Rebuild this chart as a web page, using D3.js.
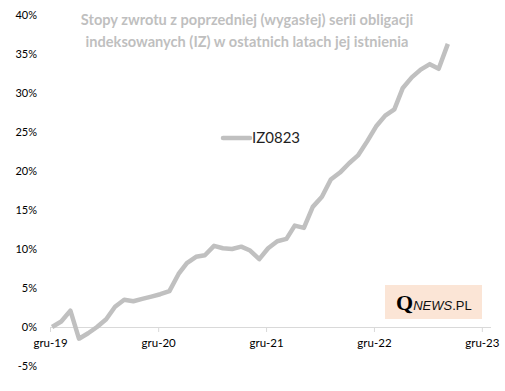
<!DOCTYPE html>
<html>
<head>
<meta charset="utf-8">
<script src="https://cdn.jsdelivr.net/npm/d3@7"></script>
<style>
  body { margin: 0; background: #fff; }
  svg { display: block; font-family: Lato, "Open Sans", sans-serif; }
</style>
</head>
<body>
<div id="chart"></div>
<script>
// monthly returns of IZ0823, from Dec 2019 to Aug 2023 (in %)
var startMonth = new Date(2019, 11, 8);
var returns = [0.0, 0.7, 2.1, -1.5, -0.8, 0.0, 1.0, 2.6, 3.5, 3.3,
               3.6, 3.9, 4.2, 4.6, 6.8, 8.2, 9.0, 9.2, 10.4, 10.1,
               10.0, 10.3, 9.8, 8.7, 10.1, 11.0, 11.3, 13.0, 12.7, 15.4,
               16.7, 18.9, 19.8, 21.0, 22.0, 23.8, 25.7, 27.1, 27.9, 30.6,
               32.0, 33.0, 33.7, 33.1, 36.3];
var yTicks = [-5, 0, 5, 10, 15, 20, 25, 30, 35, 40];
var xTickYears = [2019, 2020, 2021, 2022, 2023];
var xTickLabels = ["gru-19", "gru-20", "gru-21", "gru-22", "gru-23"];
var seriesName = "IZ0823";
var titleLines = ["Stopy zwrotu z poprzedniej (wygasłej) serii obligacji",
                  "indeksowanych (IZ) w ostatnich latach jej istnienia"];

var width = 505, height = 391;
var lineColor = "#c0c0c0";

var data = returns.map(function(v, i) {
  return { date: d3.timeMonth.offset(startMonth, i), value: v };
});

var svg = d3.select("#chart").append("svg")
  .attr("width", width)
  .attr("height", height);

var x = d3.scaleTime()
  .domain([new Date(2019, 11, 1), new Date(2024, 0, 1)])
  .range([50, 491]);

var y = d3.scaleLinear()
  .domain([-5, 40])
  .range([366, 15]);

// y labels (no axis line, no grid)
svg.append("g").selectAll("text")
  .data(yTicks)
  .enter().append("text")
  .attr("x", 37)
  .attr("y", function(d) { return y(d); })
  .attr("dy", "0.35em")
  .attr("text-anchor", "end")
  .style("font-size", "11px")
  .style("fill", "#000")
  .text(function(d) { return d + "%"; });

// x axis on zero line
var tickDates = xTickYears.map(function(yr) { return new Date(yr, 11, 1); });
var xAxis = svg.append("g")
  .attr("transform", "translate(0," + y(0) + ")")
  .call(d3.axisBottom(x)
    .tickValues(tickDates)
    .tickSize(5)
    .tickFormat(function(d, i) { return xTickLabels[i]; }));
xAxis.select(".domain").attr("stroke", "#d9d9d9").attr("d", "M50,0.5H491");
xAxis.selectAll(".tick line").attr("stroke", "#d9d9d9");
xAxis.selectAll(".tick text")
  .attr("y", 12)
  .style("font-family", "Lato, 'Open Sans', sans-serif")
  .style("font-size", "11.5px")
  .style("fill", "#000");

// series line
var line = d3.line()
  .x(function(d) { return x(d.date); })
  .y(function(d) { return y(d.value); });

svg.append("path")
  .datum(data)
  .attr("d", line)
  .attr("fill", "none")
  .attr("stroke", lineColor)
  .attr("stroke-width", 4.5)
  .attr("stroke-linejoin", "round");

// title
svg.append("text")
  .attr("x", 247)
  .attr("y", 25)
  .attr("text-anchor", "middle")
  .style("font-size", "14.6px")
  .style("font-weight", "bold")
  .style("fill", "#bfbfbf")
  .selectAll("tspan")
  .data(titleLines)
  .enter().append("tspan")
  .attr("x", 247)
  .attr("dy", function(d, i) { return i == 0 ? 0 : 22; })
  .text(function(d) { return d; });

// legend
svg.append("line")
  .attr("x1", 223).attr("x2", 250)
  .attr("y1", 138).attr("y2", 138)
  .attr("stroke", lineColor)
  .attr("stroke-width", 4.5)
  .attr("stroke-linecap", "round");
svg.append("text")
  .attr("x", 252)
  .attr("y", 138)
  .attr("dy", "0.36em")
  .style("font-size", "15px")
  .style("fill", "#1f1f1f")
  .text(seriesName);

// logo
svg.append("rect")
  .attr("x", 385).attr("y", 285)
  .attr("width", 97).attr("height", 34)
  .attr("fill", "#fbe5d6");
var logo = svg.append("text")
  .attr("x", 396)
  .attr("y", 310);
logo.append("tspan")
  .style("font-family", "'Liberation Serif', serif")
  .style("font-weight", "bold")
  .style("font-size", "22px")
  .style("fill", "#000")
  .text("Q");
logo.append("tspan")
  .style("font-family", "'Liberation Sans', sans-serif")
  .style("font-style", "italic")
  .style("font-size", "13px")
  .style("fill", "#111")
  .text("NEWS");
logo.append("tspan")
  .style("font-family", "'Liberation Sans', sans-serif")
  .style("font-size", "13px")
  .style("fill", "#111")
  .text(".PL");
</script>
</body>
</html>
